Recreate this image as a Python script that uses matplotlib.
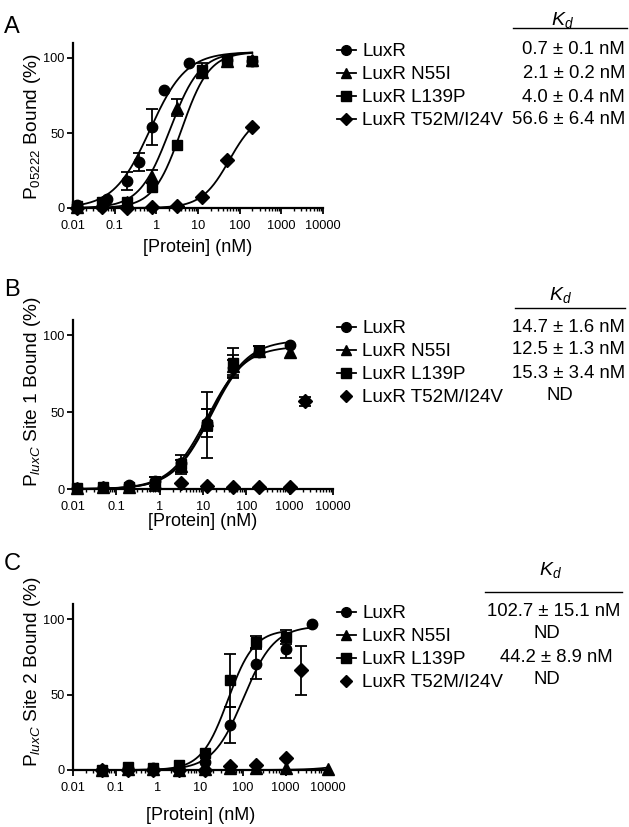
import matplotlib
matplotlib.use('Agg')
import matplotlib.pyplot as plt
import numpy as np
from matplotlib.lines import Line2D
from matplotlib.ticker import LogLocator, NullFormatter, FixedLocator, FixedFormatter

plt.rcParams['font.family'] = ['Liberation Sans', 'DejaVu Sans']
plt.rcParams['mathtext.fontset'] = 'custom'
plt.rcParams['mathtext.rm'] = 'Liberation Sans'
plt.rcParams['mathtext.it'] = 'Liberation Sans:italic'

names = ['LuxR', 'LuxR N55I', 'LuxR L139P', 'LuxR T52M/I24V']
markers = ['o', '^', 's', 'D']
msizes = [7.5, 8, 7, 6.8]

# ---- Panel A: P05222 ----
a_conc = [0.0122, 0.049, 0.195, 0.78, 3.125, 12.5, 50, 200]
a_luxr_conc = [0.0122, 0.065, 0.195, 0.39, 0.78, 1.56, 6.25, 50, 200]
a_luxr = [2, 6, 18, 31, 54, 79, 97, 99, 98]
a_luxr_err = [0, 0, 5.8, 6, 12.3, 0, 0, 0, 0]
a_n55i = [1, 4, 4, 21, 67, 91, 98, 99]
a_n55i_err = [0, 0, 0, 4.5, 5.5, 0, 0, 0]
a_l139p = [1.5, 4, 4, 14, 42, 92, 99, 98]
a_l139p_err = [0, 0, 0, 0, 0, 4.5, 0, 0]
a_t52m = [0, 0.5, 0, 0.5, 1.5, 7.5, 32, 54]
a_t52m_err = [0, 0, 0, 0, 0, 0, 0, 0]
a_kd = [0.7, 2.1, 4.0, 56.6]
a_bmax = [104, 104, 104, 64]
a_hill = [1.0, 1.2, 1.3, 1.3]
a_kd_text = ['0.7 ± 0.1 nM', '2.1 ± 0.2 nM', '4.0 ± 0.4 nM', '56.6 ± 6.4 nM']

# ---- Panel B: PluxC site 1 ----
b_conc = [0.0122, 0.049, 0.195, 0.78, 3.125, 12.5, 50, 200, 1000]
b_luxr = [0.5, 1, 2.5, 5, 17, 43, 79, 89, 94]
b_luxr_err = [0, 0, 0, 3, 0, 9, 5, 0, 0]
b_n55i = [0.5, 1, 1.5, 4, 15, 45, 80, 90, 89]
b_n55i_err = [0, 0, 0, 0, 4, 7, 7, 3, 0]
b_l139p_conc = [0.0122, 0.049, 0.195, 0.78, 3.125, 12.5, 50, 200]
b_l139p = [0.5, 1, 1, 3, 16, 41.5, 82, 90]
b_l139p_err = [0, 0, 0, 4.5, 6, 21.6, 10, 3]
b_t52m_conc = [3.125, 12.5, 50, 200, 1000, 2300]
b_t52m = [4, 2, 1.5, 1.5, 1.5, 57]
b_t52m_err = [0, 0, 0, 0, 0, 3]
b_kd = [14.7, 12.5, 15.3, None]
b_bmax = [97, 93, 96, None]
b_hill = [1.0, 1.0, 1.0, None]
b_kd_text = ['14.7 ± 1.6 nM', '12.5 ± 1.3 nM', '15.3 ± 3.4 nM', 'ND']

# ---- Panel C: PluxC site 2 ----
c_conc = [0.049, 0.195, 0.78, 3.125, 12.5, 50, 200, 1000]
c_luxr_conc = [0.049, 0.195, 0.78, 3.125, 12.5, 50, 200, 1000, 4200]
c_luxr = [0, 1, 1.5, 1, 5, 30, 70.5, 80, 97]
c_luxr_err = [0, 0, 0, 0, 0, 12, 10, 5.5, 0]
c_n55i_conc = [0.049, 0.195, 0.78, 3.125, 12.5, 50, 200, 1000, 10000]
c_n55i = [0, 0.5, 0.5, 0, 0.5, 1, 1, 1, 0.5]
c_n55i_err = [0, 0, 0, 0, 0, 0, 0, 0, 0]
c_l139p = [0, 2, 1.5, 3.5, 11.5, 59.5, 85, 88]
c_l139p_err = [0, 0, 0, 0, 0, 17.5, 4, 4.5]
c_t52m_conc = [0.049, 0.195, 0.78, 3.125, 12.5, 50, 200, 1000, 2300]
c_t52m = [0, 0, 0, 0, 0, 2.5, 3.5, 8, 66]
c_t52m_err = [0, 0, 0, 0, 0, 0, 0, 0, 16.5]
c_kd = [102.7, 6e5, 44.2, None]   # N55I line is a flat, undetermined fit
c_bmax = [95.5, 100, 93, None]
c_hill = [1.2, 1.0, 1.4, None]
c_kd_text = ['102.7 ± 15.1 nM', 'ND', '44.2 ± 8.9 nM', 'ND']

panels = [
    dict(letter='A', ylabel=r'P$_{\mathit{05222}}$ Bound (%)',
         series=[(a_luxr_conc, a_luxr, a_luxr_err), (a_conc, a_n55i, a_n55i_err),
                 (a_conc, a_l139p, a_l139p_err), (a_conc, a_t52m, a_t52m_err)],
         kd=a_kd, bmax=a_bmax, hill=a_hill, kd_text=a_kd_text,
         # layout in pixels
         ax_px=(73, 43, 323, 208), ylab_y=126, xlab_y=247, letter_y=27,
         rows=[50, 73, 97, 120], head=(562, 20, 28, 513, 627),
         kd_x=[(625, 'right')] * 4),
    dict(letter='B', ylabel=r'P$_{\mathit{luxC}}$ Site 1 Bound (%)',
         series=[(b_conc, b_luxr, b_luxr_err), (b_conc, b_n55i, b_n55i_err),
                 (b_l139p_conc, b_l139p, b_l139p_err), (b_t52m_conc, b_t52m, b_t52m_err)],
         kd=b_kd, bmax=b_bmax, hill=b_hill, kd_text=b_kd_text,
         ax_px=(73, 320, 333, 489), ylab_y=392, xlab_y=522, letter_y=290,
         rows=[327, 350, 373, 396], head=(560, 295, 308, 515, 625),
         kd_x=[(625, 'right')] * 3 + [(560, 'center')]),
    dict(letter='C', ylabel=r'P$_{\mathit{luxC}}$ Site 2 Bound (%)',
         series=[(c_luxr_conc, c_luxr, c_luxr_err), (c_n55i_conc, c_n55i, c_n55i_err),
                 (c_conc, c_l139p, c_l139p_err), (c_t52m_conc, c_t52m, c_t52m_err)],
         kd=c_kd, bmax=c_bmax, hill=c_hill, kd_text=c_kd_text,
         ax_px=(73, 604, 328, 770), ylab_y=672, xlab_y=815, letter_y=564,
         rows=[612, 634, 657, 679], head=(550, 570, 592, 485, 622),
         kd_x=[(554, 'center'), (547, 'center'), (556, 'center'), (547, 'center')]),
]

W, H = 629, 827
fig = plt.figure(figsize=(W / 100, H / 100), dpi=100)


def fx(px):
    return px / W


def fy(py):
    return 1 - py / H


for p in panels:
    x0, y0, x1, y1 = p['ax_px']
    ax = fig.add_axes([fx(x0), fy(y1), (x1 - x0) / W, (y1 - y0) / H])
    handles = []
    for i, (conc, vals, err) in enumerate(p['series']):
        conc = np.array(conc, dtype=float)
        vals = np.array(vals, dtype=float)
        err = np.array(err, dtype=float)
        has_fit = p['kd'][i] is not None
        if has_fit:
            xs = np.logspace(np.log10(conc.min()), np.log10(conc.max()), 300)
            r = (xs / p['kd'][i]) ** p['hill'][i]
            ax.plot(xs, p['bmax'][i] * r / (1 + r), color='black', lw=1.3,
                    clip_on=False, zorder=2)
        eb = err > 0
        if eb.any():
            ax.errorbar(conc[eb], vals[eb], yerr=err[eb], fmt='none', ecolor='black',
                        elinewidth=1.3, capsize=4, capthick=1.3, clip_on=False, zorder=3)
        ax.plot(conc, vals, linestyle='none', marker=markers[i], ms=msizes[i],
                color='black', clip_on=False, zorder=4)
        handles.append(Line2D([], [], color='black', marker=markers[i], ms=msizes[i] - 0.5,
                              lw=1.3 if has_fit else 0))

    ax.set_xscale('log')
    ax.set_xlim(0.01, 10000)
    ax.set_ylim(0, 110)
    ax.xaxis.set_major_locator(FixedLocator([0.01, 0.1, 1, 10, 100, 1000, 10000]))
    ax.xaxis.set_major_formatter(FixedFormatter(['0.01', '0.1', '1', '10', '100', '1000', '10000']))
    ax.xaxis.set_minor_locator(LogLocator(base=10, subs=np.arange(2, 10), numticks=20))
    ax.xaxis.set_minor_formatter(NullFormatter())
    ax.set_yticks([0, 50, 100])
    for s in ['top', 'right']:
        ax.spines[s].set_visible(False)
    for s in ['left', 'bottom']:
        ax.spines[s].set_linewidth(1.6)
    ax.tick_params(axis='both', which='major', direction='out', length=4, width=1.3,
                   labelsize=9.2)
    ax.tick_params(axis='x', which='major', pad=4.5)
    ax.tick_params(axis='y', which='major', pad=2)
    ax.tick_params(axis='x', which='minor', direction='out', length=2.5, width=1.0)
    ax.set_xlabel('[Protein] (nM)', fontsize=13)
    ax.xaxis.set_label_coords(fx((x0 + x1) / 2), fy(p['xlab_y']), transform=fig.transFigure)
    ax.xaxis.label.set_va('center')
    ax.set_ylabel(p['ylabel'], fontsize=13.8)
    ax.yaxis.set_label_coords(fx(33), fy(p['ylab_y']), transform=fig.transFigure)
    ax.yaxis.label.set_va('center')

    fig.text(fx(12), fy(p['letter_y']), p['letter'], fontsize=17, ha='center', va='center')

    # legend
    rows = p['rows']
    fig.legend(handles, names, loc='upper left',
               bbox_to_anchor=(fx(337), fy(rows[0] - 7)),
               bbox_transform=fig.transFigure, frameon=False, fontsize=13.6,
               borderpad=0, borderaxespad=0, handlelength=1.0,
               handletextpad=0.33, labelspacing=0.31)

    # Kd column
    hx, hy, ly, lx0, lx1 = p['head']
    fig.text(fx(hx), fy(hy), r'$K_d$', fontsize=14, ha='center', va='center')
    fig.add_artist(Line2D([fx(lx0), fx(lx1)], [fy(ly), fy(ly)], transform=fig.transFigure,
                          color='black', lw=1.0))
    for (tx, ha), ry, txt in zip(p['kd_x'], rows, p['kd_text']):
        fig.text(fx(tx), fy(ry), txt, fontsize=13.3, ha=ha, va='center')

fig.savefig('out.png', dpi=100)
